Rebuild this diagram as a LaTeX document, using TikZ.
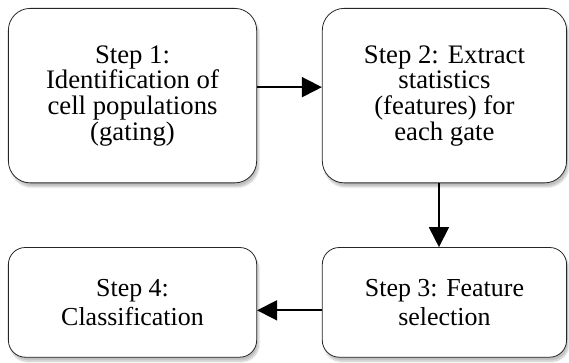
\documentclass[tikz,border=0pt]{standalone}
\usepackage{fontspec}
\setmainfont{Liberation Serif}
\usetikzlibrary{arrows.meta, positioning, shadows.blur}

\begin{document}
\begin{tikzpicture}[
    node distance=64pt and 65pt,
    step_node/.style={rectangle, draw=black!85, line width=0.8pt, fill=white, rounded corners=22pt, align=center, inner sep=0pt, blur shadow={shadow xshift=2pt, shadow yshift=-4pt, shadow blur steps=8, shadow opacity=25}},
    tall_node/.style={step_node, minimum height=175pt, font=\rmfamily\fontsize{26.8}{25.7}\selectfont, execute at begin node={\rule{0pt}{24pt}}},
    short_node/.style={step_node, minimum height=110pt, rounded corners=17pt, font=\rmfamily\fontsize{26}{29.5}\selectfont, execute at begin node={\rule{0pt}{26pt}}},
    arrow/.style={-{Triangle[length=20pt, width=20pt]}, line width=1.8pt}
]

\node[tall_node, minimum width=249pt] (gating) {Step 1:\\ Identification of\\ cell populations\\ (gating)};
\node[tall_node, minimum width=245pt, right=of gating] (features) {Step 2: Extract\\ statistics\\ (features) for\\ each gate};

% Bottom row
\node[short_node, minimum width=245pt, below=of features] (selection) {Step 3: Feature\\ selection};
\node[short_node, minimum width=249pt, left=of selection] (classify) {Step 4:\\ Classification};

% Connections
\draw[arrow] ([yshift=8.5pt]gating.east) -- ([yshift=8.5pt]features.west);
\draw[arrow] ([xshift=-5.5pt]features.south) -- ([xshift=-5.5pt]selection.north);
\draw[arrow] ([yshift=-8pt]selection.west) -- ([yshift=-8pt]classify.east);

\useasboundingbox ([shift={(-8pt,8pt)}]gating.north west) rectangle ([shift={(2pt,-5pt)}]selection.south east);
\end{tikzpicture}
\end{document}
